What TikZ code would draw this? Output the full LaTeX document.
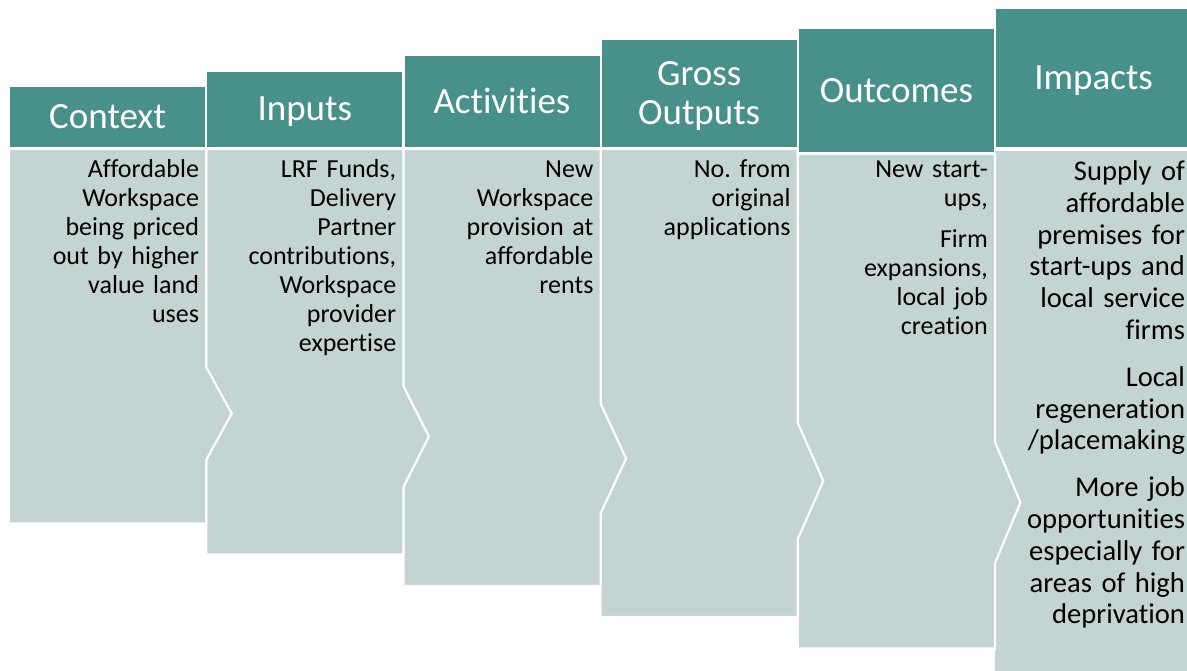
\documentclass[tikz,border=0pt]{standalone}
\usepackage{fontspec}
\setmainfont{Carlito}[Ligatures=NoCommon]
\definecolor{teal}{RGB}{72, 145, 139}
\definecolor{mist}{RGB}{195, 212, 210}
\tikzset{
  headtext/.style={text=white, anchor=base, align=center, text width=190, inner sep=0, font=\fontsize{37}{39}\selectfont},
  bodytext/.style={anchor=base east, align=right, text width=185, inner sep=0, font=\fontsize{26}{29}\selectfont}
}
\def\W{197.2}
% [baseline shift]{name}{left}{top}{bottom}{title}
\newcommand{\stagehead}[6][11.75]{
  \fill[teal] (#3 + 1.1, #4) rectangle (#3 + \W - 1.1, #5);
  \node[headtext] (#2) at (#3 + \W/2, {(#4 + #5)/2 + #1}) {#6};
}
% {left}{top}{bottom}{chevron centre}{chevron half height}
\newcommand{\stagebody}[5]{
  \draw[fill=mist, draw=white, line width=2.2] (#1, #2) -- (#1 + \W, #2) -- (#1 + \W, #4 - #5)
    -- (#1 + \W + 25.5, #4) -- (#1 + \W, #4 + #5) -- (#1 + \W, #3) -- (#1, #3) -- cycle;
}

\begin{document}
\begin{tikzpicture}[x=1pt, y=-1pt]
  \useasboundingbox (0, 0) rectangle (1187, 670);
  \clip (0, 0) rectangle (1187, 670);

  \stagehead{context}{9}{87}{147}{Context}
  \stagehead{inputs}{206.2}{71.7}{146.7}{Inputs}
  \stagehead{activities}{403.4}{56}{147}{Activities}
  \stagehead[-8.35]{outputs}{600.6}{40}{146.7}{Gross\\Outputs}
  \stagehead{outcomes}{797.8}{29.3}{151.7}{Outcomes}
  \stagehead{impacts}{995}{9.3}{146.7}{Impacts}

  % right to left, so every chevron lies over the next column
  \fill[mist] (995, 150.5) rectangle (1200, 700);
  \stagebody{797.8}{154}{648.5}{502.5}{60.5}
  \stagebody{600.6}{149}{617}{481}{58}
  \stagebody{403.4}{149}{586}{458.5}{55}
  \stagebody{206.2}{149}{554.5}{436.5}{50.5}
  \stagebody{9}{149}{523.5}{413.5}{46.5}

  \node[bodytext] (context-text) at (9 + \W - 7, 177.5)
    {Affordable\\Workspace\\being priced\\out by higher\\value land\\uses};
  \node[bodytext] (inputs-text) at (206.2 + \W - 7, 177.5)
    {LRF Funds,\\Delivery\\Partner\\contributions,\\Workspace\\provider\\expertise};
  \node[bodytext] (activities-text) at (403.4 + \W - 7, 177.5)
    {New\\Workspace\\provision at\\affordable\\rents};
  \node[bodytext] (outputs-text) at (600.6 + \W - 7, 177.5)
    {No.\ from\\original\\applications};
  \node[bodytext] (outcomes-text) at (797.8 + \W - 7, 177.5)
    {New start-\\ups,\\[12pt]Firm\\expansions,\\local job\\creation};
  \node[bodytext, font=\fontsize{28.6}{31.8}\selectfont] (impacts-text) at (995 + \W - 7, 180.5)
    {Supply of\\affordable\\premises for\\start-ups and\\local service\\firms\\[15pt]Local\\regeneration\\/placemaking\\[15pt]More job\\opportunities\\especially for\\areas of high\\deprivation};

  % \draw[red] (0, 177.5) -- (1187, 177.5);
\end{tikzpicture}
\end{document}
